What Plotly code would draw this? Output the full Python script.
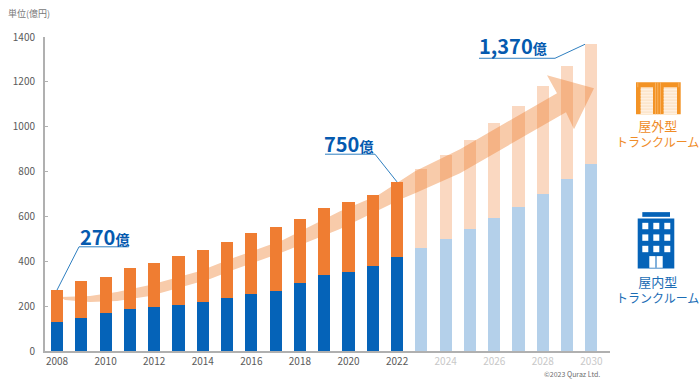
import plotly.graph_objects as go

years = list(range(2008, 2031))
last_actual_year = 2022
indoor = [128, 148, 170, 187, 196, 207, 220, 235, 253, 269, 302, 337, 353, 381, 421,
          458, 500, 545, 591, 643, 702, 765, 835]
outdoor = [142, 162, 162, 182, 196, 215, 230, 249, 271, 284, 286, 301, 313, 314, 331,
           352, 373, 397, 424, 450, 478, 507, 535]
y_ticks = [0, 200, 400, 600, 800, 1000, 1200, 1400]
x_ticks = [2008, 2010, 2012, 2014, 2016, 2018, 2020, 2022, 2024, 2026, 2028, 2030]

W, H = 700, 383
L, R, T, B = 45, 610, 36.7, 351
BLUE = "rgb(5,99,184)"
ORANGE = "rgb(239,125,50)"
BLUE_F = "rgba(5,99,184,0.3)"
ORANGE_F = "rgba(239,125,50,0.3)"
JP = "'Noto Sans CJK JP', 'Noto Sans', sans-serif"
LAT = "'Noto Sans CJK JP', sans-serif"


def px(x):
    return (x - L) / (R - L)


def py(y):
    return (B - y) / (B - T)


def path(points, close=True):
    s = "M " + " L ".join(f"{px(a):.5f},{py(b):.5f}" for a, b in points)
    return s + (" Z" if close else "")


def rect(x0, y0, x1, y1, color, layer="above"):
    return dict(type="rect", xref="paper", yref="paper", x0=px(x0), x1=px(x1), y0=py(y0), y1=py(y1),
                fillcolor=color, line_width=0, layer=layer)


def hline_path(points, color, width=1):
    return dict(type="path", xref="paper", yref="paper", path=path(points, False),
                line=dict(color=color, width=width), layer="above")


def label(x, y, text, color, size, anchor="center", weight=None, family=JP):
    return dict(xref="paper", yref="paper", x=px(x), y=py(y), text=text, showarrow=False,
                xanchor=anchor, yanchor="middle", xshift=0, yshift=0,
                font=dict(family=family, size=size, color=color, weight=weight), borderpad=0, borderwidth=0)


arrow_pts = [
    (60, 297), (90, 296), (117, 292), (150, 285), (200, 271), (233, 258), (283, 240), (340, 211),
    (378, 195), (415, 171), (460, 149), (557, 93), (547, 75), (594, 88), (574, 129), (566, 112),
    (460, 173), (415, 193), (403, 198), (340, 229), (283, 252), (233, 270), (210, 279), (150, 296),
    (117, 301), (90, 302), (65, 300),
]

shapes = [
    dict(type="path", xref="paper", yref="paper", path=path(arrow_pts), fillcolor="rgb(248,203,170)",
         line_width=0, layer="below"),
    hline_path([(57, 290), (79, 246.7), (128.7, 246.7)], "rgb(47,127,192)"),
    hline_path([(325, 154), (375, 154), (397, 181.7)], "rgb(47,127,192)"),
    hline_path([(479, 58), (555, 58), (585, 44)], "rgb(47,127,192)"),
]

# outdoor storage icon
ICON_O = "rgb(243,147,37)"
shapes.append(rect(636, 82, 680.7, 114, ICON_O))
for dx0, dx1 in [(640.7, 653), (663.7, 677)]:
    shapes.append(rect(dx0, 87, dx1, 114, "rgb(252,230,205)"))
    for yy in range(89, 114, 3):
        shapes.append(rect(dx0, yy, dx1, yy + 1, "rgb(255,243,230)"))
for xx in [637.5, 655, 657.5, 660, 678.5]:
    shapes.append(rect(xx, 82, xx + 0.7, 87 if xx < 640 or xx > 670 else 114, "rgb(250,190,120)"))

# indoor storage icon
shapes.append(rect(642.3, 212, 670, 216.7, BLUE))
shapes.append(rect(637.7, 218.3, 674.3, 268.3, BLUE))
for cx in [642.3, 653.3, 664.3]:
    for cy in [222.7, 234.3, 245.7]:
        shapes.append(rect(cx, cy, cx + 6, cy + 6.4, "white"))
shapes.append(rect(649.3, 256, 662.7, 267.7, "white"))
shapes.append(rect(655.5, 256, 656.5, 267.7, BLUE))

big = lambda s: f"{s}<span style='font-size:14px'>億</span>"
two = "<span style='font-size:13px'>{}</span><br>トランクルーム"
annotations = [
    label(8, 13, "単位(億円)", "rgb(120,120,120)", 9, "left"),
    label(80, 236, big("270"), "rgb(5,90,175)", 20, "left", 700),
    label(324, 143, big("750"), "rgb(5,90,175)", 20, "left", 700),
    label(479, 45.5, big("1,370"), "rgb(5,90,175)", 20, "left", 700),
    label(657, 133, two.format("屋外型"), "rgb(239,140,40)", 12),
    label(657, 289, two.format("屋内型"), "rgb(27,109,181)", 12),
    label(600, 374, "©2023 Quraz Ltd.", "rgb(110,110,110)", 7, "right"),
]

x_text = [
    str(y) if y <= last_actual_year else f"<span style='color:rgb(200,200,200)'>{y}</span>"
    for y in x_ticks
]

fig = go.Figure()
fig.add_bar(x=years, y=indoor, name="屋内型", width=0.5,
            marker=dict(color=[BLUE if y <= last_actual_year else BLUE_F for y in years], line_width=0))
fig.add_bar(x=years, y=outdoor, name="屋外型", width=0.5,
            marker=dict(color=[ORANGE if y <= last_actual_year else ORANGE_F for y in years], line_width=0))
fig.update_layout(
    width=W, height=H, barmode="stack", showlegend=False,
    autosize=False,
    margin=dict(l=L, r=W - R, t=T, b=H - B, pad=0),
    paper_bgcolor="white", plot_bgcolor="rgba(0,0,0,0)",
    font=dict(family=LAT, size=10, color="rgb(90,90,90)"),
    shapes=shapes, annotations=annotations,
    xaxis=dict(range=[2007.506, 2030.766], tickmode="array", tickvals=x_ticks, ticktext=x_text,
               showgrid=False, zeroline=False, showline=True, linecolor="rgb(176,176,176)", linewidth=1.5,
               ticks="", ticklabelstandoff=0, tickfont=dict(size=10, color="rgb(90,90,90)")),
    yaxis=dict(range=[0, 1400], tickmode="array", tickvals=y_ticks, showgrid=False, zeroline=False,
               showline=True, linecolor="rgb(176,176,176)", linewidth=2, ticks="inside", ticklen=3,
               tickwidth=1, tickcolor="rgb(176,176,176)", ticklabelstandoff=6,
               tickfont=dict(size=10, color="rgb(90,90,90)")),
)
fig.write_html("out.html", config=dict(displayModeBar=False),
               post_script="document.body.style.margin='0';document.documentElement.style.overflow='hidden';")
